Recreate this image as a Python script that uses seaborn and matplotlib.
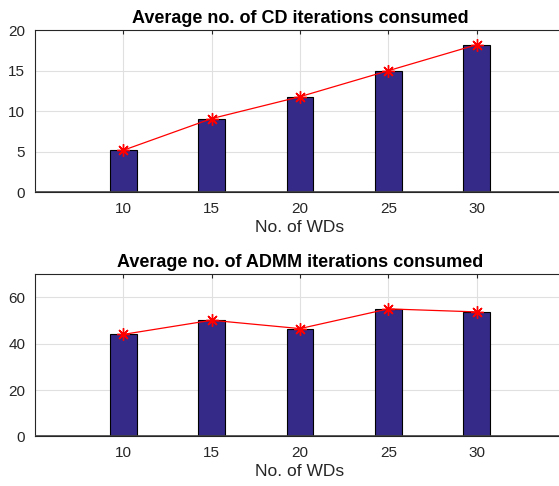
import numpy as np
import pandas as pd
import matplotlib
matplotlib.use('Agg')
import matplotlib.pyplot as plt
import seaborn as sns

# 데이터
wds = [10, 15, 20, 25, 30]
cd_iters = [5.2, 9.1, 11.8, 15.0, 18.2]
admm_iters = [44.0, 50.1, 46.5, 55.0, 53.7]

sns.set_style('whitegrid')
plt.rcParams['font.family'] = ['Liberation Sans', 'DejaVu Sans']

bar_color = '#352a87'
fig = plt.figure(figsize=(5.59, 4.86), dpi=100)
ax1 = fig.add_axes([0.0626, 0.604, 0.948, 0.334])
ax2 = fig.add_axes([0.0626, 0.102, 0.948, 0.334])

panels = [
    (ax1, cd_iters, 'Average no. of CD iterations consumed', [0, 20], [0, 5, 10, 15, 20]),
    (ax2, admm_iters, 'Average no. of ADMM iterations consumed', [0, 70], [0, 20, 40, 60]),
]

for ax, vals, title, ylim, yticks in panels:
    df = pd.DataFrame({'wds': wds, 'iters': vals})
    sns.barplot(data=df, x='wds', y='iters', native_scale=True, width=0.3,
                color=bar_color, edgecolor='black', linewidth=0.8,
                saturation=1, ax=ax, zorder=2)
    sns.lineplot(data=df, x='wds', y='iters', color='red', linewidth=0.9,
                 marker=(8, 2, 0), markersize=9, markeredgecolor='red',
                 markeredgewidth=1.0, ax=ax, zorder=3)
    ax.set_xlim(5, 35)
    ax.set_ylim(*ylim)
    ax.set_xticks(wds)
    ax.set_yticks(yticks)
    ax.set_title(title, fontsize=13, fontweight='bold', color='black', pad=5)
    ax.set_xlabel('No. of WDs', fontsize=12.5, color='#262626', labelpad=3)
    ax.set_ylabel('')
    ax.grid(True, color='#e0e0e0', linewidth=0.8, zorder=0)
    ax.set_axisbelow(True)
    ax.tick_params(axis='both', labelsize=11, colors='#262626', direction='in',
                   length=3, top=True, right=True, pad=7)
    for s in ax.spines.values():
        s.set_color('#262626')
        s.set_linewidth(0.8)
        s.set_visible(True)
    ax.axhline(0, color='#404040', linewidth=1.2, zorder=4)

fig.savefig('out.png', dpi=100)
